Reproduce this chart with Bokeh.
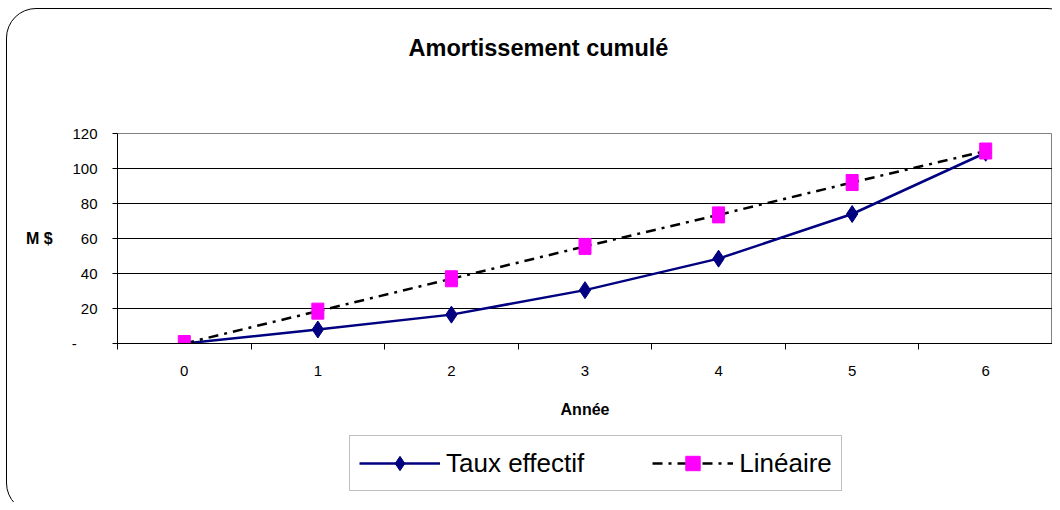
from bokeh.plotting import figure
from bokeh.models import Range1d, FixedTicker, Legend, LegendItem, InlineStyleSheet, Label
from bokeh.layouts import column
from bokeh.embed import file_html
from bokeh.resources import INLINE

# ---- data ----
years = [0, 1, 2, 3, 4, 5, 6]
year_labels = ["0", "1", "2", "3", "4", "5", "6"]
taux_effectif = [0, 8, 16.5, 30.5, 48.5, 74, 109]
lineaire = [0, 18.5, 37, 55.5, 73.5, 92, 110]
y_ticks = [0, 20, 40, 60, 80, 100, 120]
y_tick_labels = ["-\u00a0\u00a0\u00a0\u00a0\u00a0", "20", "40", "60", "80", "100", "120"]
title_text = "Amortissement cumulé"
x_title = "Année"
y_title = "M $"
series_names = ["Taux effectif", "Linéaire"]

FONT = "Liberation Sans"
NAVY = "#000080"
MAGENTA = "#FF00FF"
W = 1052


def blank(fig):
    fig.outline_line_color = None
    fig.background_fill_color = "white"
    fig.border_fill_color = "white"


# ---- title strip (frame is aligned with the main chart's frame in the column) ----
top = figure(width=W, height=100, output_backend="svg", toolbar_location=None,
             x_range=Range1d(0, 1), y_range=Range1d(0, 1),
             x_axis_type=None, y_axis_type=None, min_border=0)
blank(top)
top.add_layout(Label(x=421, y=53, x_units="screen", y_units="screen",
                     text=title_text, text_align="center", text_baseline="middle",
                     text_font=FONT, text_font_size="23.5px",
                     text_font_style="bold", text_color="black"))

# ---- main chart ----
p = figure(width=W, height=328, output_backend="svg", toolbar_location=None,
           x_range=Range1d(-0.5, 6.5), y_range=Range1d(0, 120),
           min_border_left=117, min_border_right=0, min_border_top=33,
           min_border_bottom=85)
p.background_fill_color = "white"
p.border_fill_color = "white"
p.outline_line_color = "#808080"
p.outline_line_width = 1

p.xgrid.grid_line_color = None
p.ygrid.ticker = FixedTicker(ticks=y_ticks)
p.ygrid.grid_line_color = "black"
p.ygrid.grid_line_width = 1

xa = p.xaxis[0]
xa.ticker = FixedTicker(ticks=years, minor_ticks=[y - 0.5 for y in years] + [6.5])
xa.major_label_overrides = {y: l for y, l in zip(years, year_labels)}
xa.major_tick_out = 0
xa.major_tick_in = 0
xa.minor_tick_out = 6
xa.minor_tick_in = 0
xa.minor_tick_line_color = "black"
xa.axis_line_color = "black"
xa.major_label_standoff = 16
xa.major_label_text_font = FONT
xa.major_label_text_font_size = "15px"
xa.major_label_text_color = "black"
xa.axis_label = x_title
xa.axis_label_text_font = FONT
xa.axis_label_text_font_size = "16px"
xa.axis_label_text_font_style = "bold"
xa.axis_label_text_color = "black"
xa.axis_label_standoff = 22

ya = p.yaxis[0]
ya.ticker = FixedTicker(ticks=y_ticks)
ya.major_label_overrides = {t: l for t, l in zip(y_ticks, y_tick_labels)}
ya.major_tick_out = 5
ya.major_tick_in = 0
ya.minor_tick_line_color = None
ya.axis_line_color = "black"
ya.major_label_standoff = 15
ya.major_label_text_font = FONT
ya.major_label_text_font_size = "15px"
ya.major_label_text_color = "black"
ya.axis_label = y_title
ya.axis_label_orientation = "horizontal"
ya.axis_label_text_font = FONT
ya.axis_label_text_font_size = "16px"
ya.axis_label_text_font_style = "bold"
ya.axis_label_text_color = "black"
ya.axis_label_standoff = 16

p.line(years, taux_effectif, line_color=NAVY, line_width=2.5)
p.scatter(years, taux_effectif, marker="diamond", size=17,
          fill_color=NAVY, line_color=NAVY)
p.line(years, lineaire, line_color="black", line_width=2.5, line_dash="10 6 3 6")
p.rect(years, lineaire, width=12, height=16, width_units="screen",
       height_units="screen", fill_color=MAGENTA, line_color=MAGENTA)

# ---- legend strip ----
leg = figure(width=W, height=74, output_backend="svg", toolbar_location=None,
             x_range=Range1d(100, 101), y_range=Range1d(1000, 1001),
             x_axis_type=None, y_axis_type=None, min_border=0)
blank(leg)
l1 = leg.line(years, taux_effectif, line_color=NAVY, line_width=2.5)
m1 = leg.scatter(years, taux_effectif, marker="diamond", size=17,
                 fill_color=NAVY, line_color=NAVY)
l2 = leg.line(years, lineaire, line_color="black", line_width=2.5,
              line_dash="10 6 3 6")
m2 = leg.scatter(years, lineaire, marker="square", size=14,
                 fill_color=MAGENTA, line_color=MAGENTA)
legend = Legend(items=[LegendItem(label=series_names[0], renderers=[l1, m1]),
                       LegendItem(label=series_names[1], renderers=[l2, m2])],
                orientation="horizontal", location=(232, 11))
legend.label_text_font = FONT
legend.label_text_font_size = "26px"
legend.label_text_color = "black"
legend.glyph_width = 81
legend.glyph_height = 36
legend.label_standoff = 6
legend.spacing = 68
legend.padding = 9
legend.margin = 0
legend.border_line_color = "#808080"
legend.border_line_width = 1
legend.background_fill_color = "white"
leg.add_layout(legend)

layout = column(top, p, leg, spacing=0)
layout.stylesheets = [InlineStyleSheet(css="""
:host { position: relative; overflow: hidden; }
:host::after {
  content: ""; position: absolute; left: 6px; top: 8px;
  right: -26px; bottom: -11px;
  border: 1.5px solid black; border-radius: 30px;
  pointer-events: none;
}
""")]

open("out.html", "w").write(file_html(layout, INLINE))
